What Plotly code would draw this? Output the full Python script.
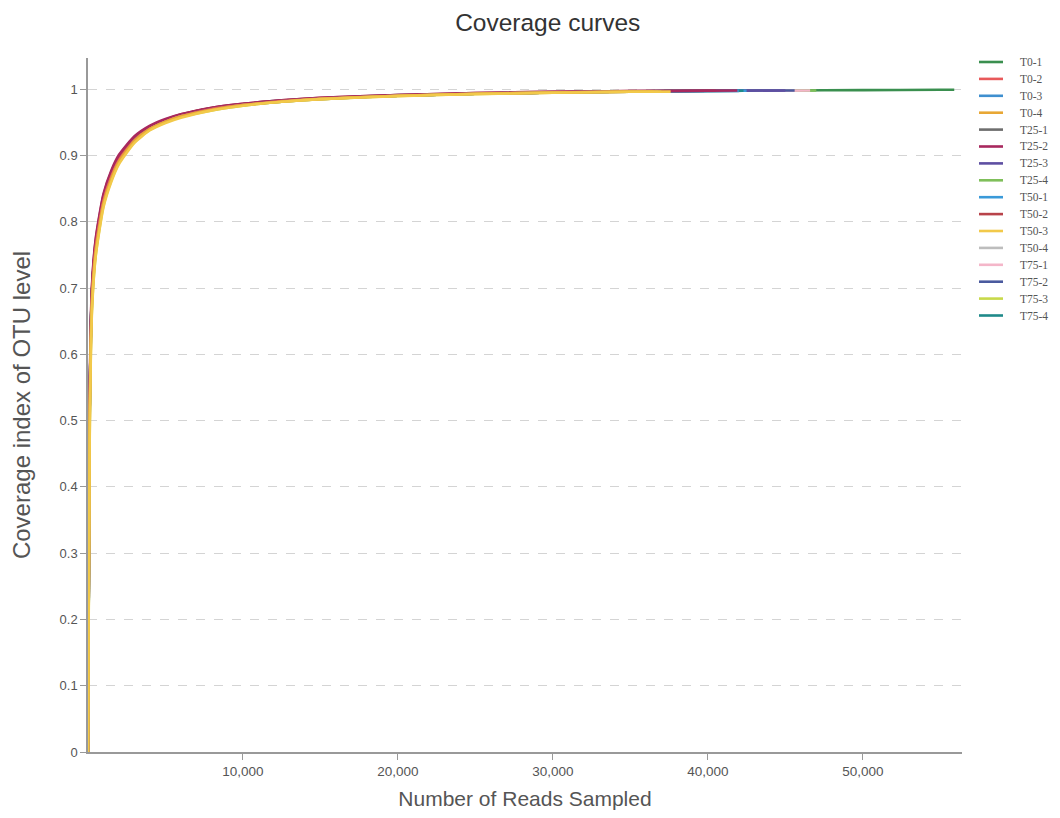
import plotly.graph_objects as go

# shared sampling depths (reads)
x_grid = [0, 100, 250, 500, 1000, 1500, 2000, 3000, 4000, 5000, 6000, 8000,
          10000, 12500, 15000, 20000, 25000, 30000, 35000, 40000, 45000, 50000, 55000]

samples = ["T0-1", "T0-2", "T0-3", "T0-4", "T25-1", "T25-2", "T25-3", "T25-4",
           "T50-1", "T50-2", "T50-3", "T50-4", "T75-1", "T75-2", "T75-3", "T75-4"]

colors = ["#3a8f4f", "#e8595a", "#3f8fcf", "#e8a735", "#6e6e6e", "#a8285e", "#5e4fa2", "#7fbf5a",
          "#3a9ad9", "#b8434a", "#f2c94a", "#bdbdbd", "#f4b6c9", "#4a5a9e", "#c8d94a", "#1f8a8a"]

# total reads per sample (end of each curve)
max_reads = [55900, 36800, 42000, 36500, 36200, 41900, 45000, 47000,
             42500, 40500, 37600, 35500, 46600, 45600, 37000, 42300]

# coverage values at x_grid points below max_reads, then at max_reads
cov_T0_1 = [0, 0.50, 0.690, 0.765, 0.834, 0.870, 0.895, 0.924, 0.941, 0.952, 0.960, 0.970, 0.977, 0.982, 0.986, 0.990, 0.993, 0.995, 0.9965, 0.9975, 0.998, 0.9985, 0.999, 0.999]
cov_T0_2 = [0, 0.50, 0.685, 0.762, 0.832, 0.868, 0.893, 0.923, 0.940, 0.951, 0.959, 0.970, 0.976, 0.982, 0.986, 0.990, 0.993, 0.995, 0.9962, 0.9965]
cov_T0_3 = [0, 0.50, 0.688, 0.764, 0.833, 0.869, 0.894, 0.923, 0.941, 0.952, 0.960, 0.970, 0.977, 0.982, 0.986, 0.990, 0.993, 0.995, 0.9965, 0.9972, 0.9974]
cov_T0_4 = [0, 0.48, 0.672, 0.755, 0.828, 0.865, 0.891, 0.922, 0.940, 0.951, 0.959, 0.969, 0.976, 0.981, 0.985, 0.990, 0.993, 0.9948, 0.9962, 0.9964]
cov_T25_1 = [0, 0.49, 0.680, 0.760, 0.831, 0.867, 0.892, 0.923, 0.940, 0.951, 0.959, 0.970, 0.976, 0.982, 0.986, 0.990, 0.993, 0.995, 0.9963, 0.9965]
cov_T25_2 = [0, 0.52, 0.700, 0.775, 0.842, 0.877, 0.901, 0.929, 0.945, 0.955, 0.962, 0.972, 0.978, 0.983, 0.987, 0.991, 0.994, 0.996, 0.997, 0.9978, 0.998]
cov_T25_3 = [0, 0.50, 0.690, 0.766, 0.835, 0.871, 0.896, 0.925, 0.942, 0.953, 0.961, 0.971, 0.977, 0.982, 0.986, 0.990, 0.993, 0.995, 0.9965, 0.9975, 0.998, 0.998]
cov_T25_4 = [0, 0.49, 0.682, 0.760, 0.831, 0.867, 0.892, 0.922, 0.940, 0.951, 0.959, 0.970, 0.976, 0.981, 0.985, 0.990, 0.993, 0.995, 0.9963, 0.9972, 0.9978, 0.998]
cov_T50_1 = [0, 0.50, 0.690, 0.765, 0.834, 0.870, 0.895, 0.924, 0.942, 0.952, 0.960, 0.971, 0.977, 0.982, 0.986, 0.990, 0.993, 0.995, 0.9965, 0.9974, 0.9976]
cov_T50_2 = [0, 0.51, 0.697, 0.772, 0.840, 0.875, 0.899, 0.928, 0.944, 0.954, 0.962, 0.972, 0.978, 0.983, 0.987, 0.991, 0.994, 0.996, 0.997, 0.9975, 0.9976]
cov_T50_3 = [0, 0.45, 0.660, 0.748, 0.822, 0.860, 0.887, 0.919, 0.938, 0.949, 0.957, 0.968, 0.975, 0.981, 0.985, 0.9895, 0.9925, 0.9945, 0.996, 0.9962]
cov_T50_4 = [0, 0.48, 0.675, 0.756, 0.829, 0.866, 0.891, 0.922, 0.940, 0.951, 0.959, 0.969, 0.976, 0.981, 0.985, 0.990, 0.993, 0.995, 0.996, 0.9962]
cov_T75_1 = [0, 0.50, 0.686, 0.763, 0.832, 0.868, 0.893, 0.923, 0.941, 0.952, 0.960, 0.970, 0.977, 0.982, 0.986, 0.990, 0.993, 0.995, 0.9965, 0.9973, 0.9978, 0.998]
cov_T75_2 = [0, 0.50, 0.692, 0.768, 0.837, 0.873, 0.897, 0.926, 0.943, 0.953, 0.961, 0.971, 0.977, 0.983, 0.986, 0.991, 0.993, 0.995, 0.9966, 0.9976, 0.998, 0.998]
cov_T75_3 = [0, 0.46, 0.665, 0.750, 0.824, 0.862, 0.889, 0.920, 0.939, 0.950, 0.958, 0.968, 0.975, 0.981, 0.985, 0.9897, 0.9927, 0.9947, 0.996, 0.9961]
cov_T75_4 = [0, 0.50, 0.690, 0.765, 0.834, 0.870, 0.895, 0.925, 0.942, 0.953, 0.961, 0.971, 0.977, 0.982, 0.986, 0.990, 0.993, 0.995, 0.9965, 0.9974, 0.9976]

coverages = [cov_T0_1, cov_T0_2, cov_T0_3, cov_T0_4, cov_T25_1, cov_T25_2, cov_T25_3, cov_T25_4,
             cov_T50_1, cov_T50_2, cov_T50_3, cov_T50_4, cov_T75_1, cov_T75_2, cov_T75_3, cov_T75_4]

# stacking order of the curves (first = bottom, last = top)
draw_order = ["T0-1", "T25-4", "T75-1", "T75-2", "T25-3", "T50-1", "T75-4", "T0-3",
              "T50-2", "T25-2", "T25-1", "T50-4", "T0-2", "T75-3", "T0-4", "T50-3"]

y_ticks = [0, 0.1, 0.2, 0.3, 0.4, 0.5, 0.6, 0.7, 0.8, 0.9, 1]
x_ticks = [10000, 20000, 30000, 40000, 50000]

W, H = 1044, 802
ML, MR, MT, MB = 80, 90, 50, 58
PW, PH = W - ML - MR, H - MT - MB

fig = go.Figure()
for name in draw_order:
    i = samples.index(name)
    mx, cov = max_reads[i], coverages[i]
    xs = [g for g in x_grid if g < mx] + [mx]
    fig.add_trace(go.Scatter(x=xs, y=cov[:len(xs)], mode="lines", name=name, showlegend=False,
                             line=dict(color=colors[i], width=2.6, shape="spline", smoothing=0.6)))

# legend drawn at the right side, one entry per sample
def px_to_paper_x(px):
    return (px - ML) / PW

def px_to_paper_y(py):
    return 1 - (py - MT) / PH

shapes, annos = [], []
for i, (name, col) in enumerate(zip(samples, colors)):
    yy = px_to_paper_y(54 + i * 16.9)
    shapes.append(dict(type="line", xref="paper", yref="paper",
                       x0=px_to_paper_x(971), x1=px_to_paper_x(995), y0=yy, y1=yy,
                       line=dict(color=col, width=2.6)))
    annos.append(dict(text=name, xref="paper", yref="paper", x=px_to_paper_x(1010), y=yy,
                      xanchor="left", yanchor="middle", showarrow=False,
                      font=dict(family="Liberation Serif, Times New Roman", size=11.5, color="#555")))

fig.update_layout(
    width=W, height=H,
    paper_bgcolor="white", plot_bgcolor="white",
    margin=dict(l=ML, r=MR, t=MT, b=MB),
    showlegend=False,
    shapes=shapes, annotations=annos,
    title=dict(text="Coverage curves", x=0.517, xanchor="center", y=1 - 14 / H, yanchor="middle",
               font=dict(family="Liberation Sans, Arial", size=24.5, color="#333")),
    font=dict(family="Liberation Sans, Arial", color="#555"),
    xaxis=dict(range=[0, 56400], tickvals=x_ticks, tickformat=",", showgrid=False, zeroline=False,
               automargin=False,
               showline=True, linecolor="#999", linewidth=1.5, ticks="outside", ticklen=6,
               tickcolor="#999", tickfont=dict(size=13.5, color="#555"),
               title=dict(text="Number of Reads Sampled", font=dict(size=21, color="#555"), standoff=14)),
    yaxis=dict(range=[0, 1.047], tickvals=y_ticks, showgrid=True, gridcolor="#d4d4d4", griddash="dash",
               automargin=False,
               zeroline=False, showline=True, linecolor="#999", linewidth=1.5, ticks="outside",
               ticklen=6, tickcolor="#999", tickfont=dict(size=13, color="#555"),
               title=dict(text="Coverage index of OTU level", font=dict(size=24, color="#555"), standoff=22)),
)

fig.write_html("out.html")
